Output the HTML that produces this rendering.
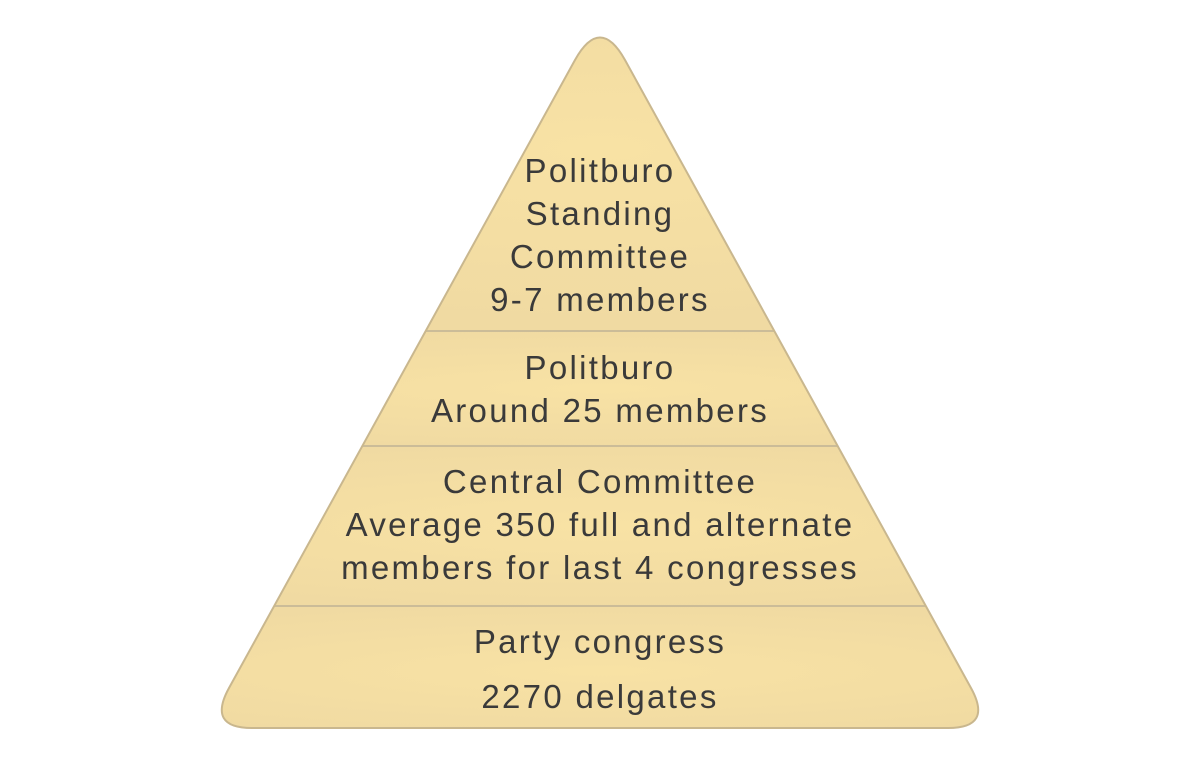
<!DOCTYPE html>
<html><head><meta charset="utf-8"><style>
html,body{margin:0;padding:0;background:#fff;}
svg{display:block;}
text{font-family:"Liberation Sans",sans-serif;font-size:33px;fill:#3a3a3a;text-anchor:middle;letter-spacing:2.3px;}
</style></head><body>
<svg width="1200" height="768" viewBox="0 0 1200 768" xmlns="http://www.w3.org/2000/svg">
<defs>
<radialGradient id="g1" cx="0.5" cy="0.45" r="0.6">
<stop offset="0" stop-color="#f8e2a4"/><stop offset="1" stop-color="#efd9a2"/>
</radialGradient>
<radialGradient id="g2" cx="0.5" cy="0.5" r="0.6">
<stop offset="0" stop-color="#f8e2a4"/><stop offset="1" stop-color="#efd9a2"/>
</radialGradient>
<clipPath id="c"><path d="M575,60 Q600,15 625,60 L971,688 Q993,728 948,728 L252,728 Q207,728 229,688 Z"/></clipPath>
</defs>
<g clip-path="url(#c)">
<rect x="0" y="0" width="1200" height="331" fill="url(#g1)"/>
<rect x="0" y="331" width="1200" height="115" fill="url(#g2)"/>
<rect x="0" y="446" width="1200" height="160" fill="url(#g2)"/>
<rect x="0" y="606" width="1200" height="130" fill="url(#g2)"/>
<line x1="0" y1="331" x2="1200" y2="331" stroke="#cbbc98" stroke-width="2"/>
<line x1="0" y1="446" x2="1200" y2="446" stroke="#cbbc98" stroke-width="2"/>
<line x1="0" y1="606" x2="1200" y2="606" stroke="#cbbc98" stroke-width="2"/>
</g>
<path d="M575,60 Q600,15 625,60 L971,688 Q993,728 948,728 L252,728 Q207,728 229,688 Z" fill="none" stroke="#c9b78e" stroke-width="2"/>
<text x="600" y="182">Politburo</text>
<text x="600" y="225">Standing</text>
<text x="600" y="268">Committee</text>
<text x="600" y="311">9-7 members</text>
<text x="600" y="379">Politburo</text>
<text x="600" y="422">Around 25 members</text>
<text x="600" y="493">Central Committee</text>
<text x="600" y="536">Average 350 full and alternate</text>
<text x="600" y="579">members for last 4 congresses</text>
<text x="600" y="653">Party congress</text>
<text x="600" y="708">2270 delgates</text>
</svg>
</body></html>
